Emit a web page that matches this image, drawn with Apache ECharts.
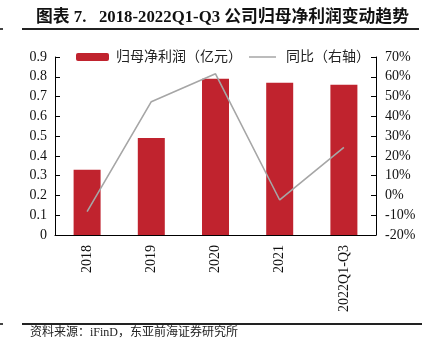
<!DOCTYPE html>
<html><head><meta charset="utf-8">
<script src="https://cdn.jsdelivr.net/npm/echarts@6/dist/echarts.min.js"></script>
<style>html,body{margin:0;padding:0;background:#fff}#c{width:429px;height:356px}</style>
</head><body><div id="c"></div>
<script>
var categories = ['2018', '2019', '2020', '2021', '2022Q1-Q3'];
var profit = [0.33, 0.49, 0.79, 0.77, 0.76];
var yoy = [-8.2, 47.4, 61.5, -2.3, 24.3];
var leftTicks = ['0', '0.1', '0.2', '0.3', '0.4', '0.5', '0.6', '0.7', '0.8', '0.9'];
var rightTicks = ['-20%', '-10%', '0%', '10%', '20%', '30%', '40%', '50%', '60%', '70%'];

var serif = "'Liberation Serif','Times New Roman','Noto Sans CJK SC',serif";
var cjk = "'Liberation Serif','Noto Sans CJK SC',serif";
var chart = echarts.init(document.getElementById('c'), null, {renderer: 'canvas'});
chart.setOption({
  animation: false,
  title: {
    text: '图表 7.   2018-2022Q1-Q3 公司归母净利润变动趋势',
    left: 31, top: 4,
    textStyle: {fontFamily: cjk, fontSize: 16.8, fontWeight: 'bold', color: '#111'}
  },
  legend: [{
    data: ['归母净利润（亿元）'], left: 71, top: 45,
    itemWidth: 33, itemHeight: 8,
    textStyle: {fontFamily: cjk, fontSize: 14, color: '#222', padding: [0, 0, 0, 2]}
  }, {
    data: [{name: '同比（右轴）', icon: 'rect', itemStyle: {color: '#A6A6A6'}}],
    left: 244, top: 45,
    itemWidth: 27, itemHeight: 1.5,
    textStyle: {fontFamily: cjk, fontSize: 14, color: '#222', padding: [0, 0, 0, 5]}
  }],
  grid: {left: 55, right: 53, top: 57, bottom: 121},
  xAxis: {
    type: 'category', data: categories,
    axisLine: {lineStyle: {color: '#000', width: 1}},
    axisTick: {show: false},
    axisLabel: {rotate: 90, margin: 10, fontFamily: serif, fontSize: 14, color: '#111'}
  },
  yAxis: [{
    type: 'value', min: 0, max: 0.9, interval: 0.1,
    axisLine: {show: true, lineStyle: {color: '#000'}},
    axisTick: {show: true, inside: true, length: 5, lineStyle: {color: '#000'}},
    splitLine: {show: false},
    axisLabel: {margin: 8, fontFamily: serif, fontSize: 14, color: '#111',
      formatter: function (v) { return leftTicks[Math.round(v * 10)]; }}
  }, {
    type: 'value', min: -20, max: 70, interval: 10, position: 'right',
    axisLine: {show: true, lineStyle: {color: '#000'}},
    axisTick: {show: true, inside: true, length: 5, lineStyle: {color: '#000'}},
    splitLine: {show: false},
    axisLabel: {margin: 9, fontFamily: serif, fontSize: 14, color: '#111',
      formatter: function (v) { return rightTicks[Math.round((v + 20) / 10)]; }}
  }],
  series: [{
    name: '归母净利润（亿元）', type: 'bar', data: profit, yAxisIndex: 0,
    barWidth: 27, itemStyle: {color: '#C0232E'}
  }, {
    name: '同比（右轴）', type: 'line', data: yoy, yAxisIndex: 1,
    symbol: 'none', lineStyle: {color: '#A6A6A6', width: 1.6}, itemStyle: {color: '#A6A6A6'}
  }],
  graphic: [
    {type: 'rect', shape: {x: 22, y: 28, width: 397, height: 2}, style: {fill: '#222'}},
    {type: 'rect', shape: {x: 0, y: 28, width: 3, height: 2}, style: {fill: '#444'}},
    {type: 'rect', shape: {x: 22, y: 323, width: 400, height: 2}, style: {fill: '#222'}},
    {type: 'rect', shape: {x: 0, y: 323, width: 3, height: 2}, style: {fill: '#444'}},
    {type: 'text', left: 30, top: 327,
      style: {text: '资料来源：iFinD，东亚前海证券研究所', fontFamily: cjk, fontSize: 12, fill: '#222'}}
  ]
});
</script></body></html>
